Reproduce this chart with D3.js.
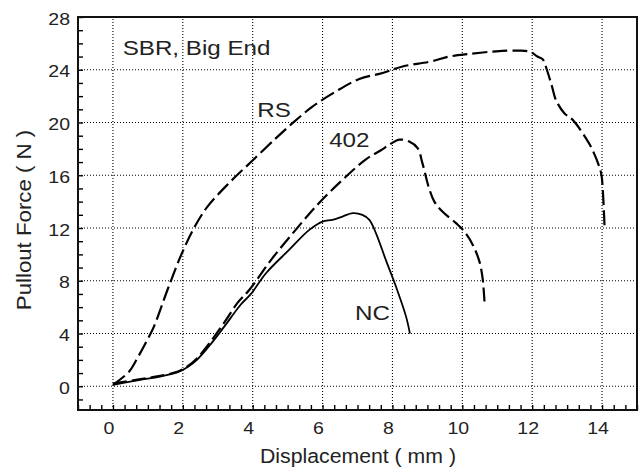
<!DOCTYPE html>
<html>
<head>
<meta charset="utf-8">
<script src="https://cdn.jsdelivr.net/npm/d3@7"></script>
<style>
  body { margin: 0; background: #fff; }
  svg { display: block; font-family: "Liberation Sans", Arial, sans-serif; }
</style>
</head>
<body>
<svg id="chart"></svg>
<script>
// curves, [displacement mm, force N]
const rsCurve = [
  [0, 0.1], [0.46, 1.1], [0.65, 1.9], [0.98, 3.5], [1.17, 4.5], [1.56, 7.3],
  [1.96, 10.0], [2.32, 12.0], [2.7, 13.6], [3.32, 15.4], [3.95, 17.0],
  [4.66, 18.8], [5.14, 19.95], [5.71, 21.2], [6.38, 22.35], [7.05, 23.3],
  [7.72, 23.75], [8.29, 24.25], [9.05, 24.6], [9.63, 25.0], [10.2, 25.2],
  [10.97, 25.4], [11.63, 25.45], [11.95, 25.35], [12.15, 25.0], [12.3, 24.8],
  [12.42, 24.0], [12.57, 22.7], [12.68, 21.7], [12.92, 20.7], [13.16, 20.2],
  [13.54, 18.8], [13.73, 17.9], [13.97, 16.2], [14.02, 14.9], [14.07, 12.2]
];
const curve402 = [
  [0, 0.2], [0.7, 0.5], [1.27, 0.75], [1.84, 1.1], [2.13, 1.5], [2.42, 2.15],
  [2.8, 3.4], [3.18, 4.8], [3.56, 6.3], [3.9, 7.3], [4.56, 9.7], [5.23, 11.86],
  [5.9, 13.9], [6.57, 15.65], [7.24, 17.2], [7.67, 17.9], [7.96, 18.4],
  [8.19, 18.7], [8.48, 18.56], [8.72, 18.06], [8.86, 16.9], [9.05, 15.0],
  [9.2, 14.0], [9.43, 13.25], [9.82, 12.37], [10.06, 11.73], [10.3, 10.72],
  [10.49, 9.45], [10.58, 8.2], [10.64, 6.2]
];
const ncCurve = [
  [0, 0.1], [0.7, 0.45], [1.27, 0.7], [1.84, 1.05], [2.13, 1.45], [2.42, 2.05],
  [2.8, 3.2], [3.18, 4.5], [3.66, 6.2], [3.95, 7.0], [4.38, 8.57], [5.04, 10.34],
  [5.62, 11.86], [6.0, 12.49], [6.28, 12.62], [6.57, 12.87], [6.86, 13.13],
  [7.14, 13.0], [7.34, 12.62], [7.53, 11.6], [7.81, 9.58], [8.1, 7.56],
  [8.39, 5.28], [8.5, 4.0]
];

const xTicks = [0, 2, 4, 6, 8, 10, 12, 14];
const yTicks = [0, 4, 8, 12, 16, 20, 24, 28];

const labels = [
  { text: "SBR, Big End", x: 0.28, y: 25.1 },
  { text: "RS", x: 4.13, y: 20.4 },
  { text: "402", x: 6.19, y: 18.15 },
  { text: "NC", x: 6.93, y: 5.05 }
];

const width = 639;
const height = 468;
const margin = { top: 17, right: 2, bottom: 58, left: 78 };

const svg = d3.select("#chart").attr("width", width).attr("height", height);

const x = d3.scaleLinear().domain([-1, 15]).range([margin.left, width - margin.right]);
const y = d3.scaleLinear().domain([-1.8, 28]).range([height - margin.bottom, margin.top]);

// the reference lettering is wider than Arial, stretch it a bit
function stretch(sel, factor) {
  sel.each(function () {
    const len = this.getComputedTextLength();
    d3.select(this)
      .attr("textLength", len * factor)
      .attr("lengthAdjust", "spacingAndGlyphs");
  });
}

// dotted grid
svg.append("g")
  .selectAll("line")
  .data(xTicks)
  .enter()
  .append("line")
  .attr("x1", (d) => x(d))
  .attr("x2", (d) => x(d))
  .attr("y1", y.range()[0])
  .attr("y2", y.range()[1])
  .attr("stroke", "#000")
  .attr("stroke-width", 1.1)
  .attr("stroke-dasharray", "1,2");

svg.append("g")
  .selectAll("line")
  .data(yTicks.slice(0, -1))
  .enter()
  .append("line")
  .attr("x1", x.range()[0])
  .attr("x2", x.range()[1])
  .attr("y1", (d) => y(d))
  .attr("y2", (d) => y(d))
  .attr("stroke", "#000")
  .attr("stroke-width", 1.1)
  .attr("stroke-dasharray", "1,2");

// minor ticks inside the frame
const xMinor = d3.range(-1, 15.001, 1 / 3);
const yMinor = d3.range(-1, 28.001, 1);

const xAxis = d3.axisBottom(x).tickValues(xMinor).tickSize(-5).tickFormat("");
svg.append("g")
  .attr("transform", `translate(0,${y.range()[0]})`)
  .call(xAxis)
  .call((g) => g.select(".domain").remove())
  .selectAll("line").attr("stroke-width", 1.4);

const yAxis = d3.axisLeft(y).tickValues(yMinor).tickSize(-5).tickFormat("");
svg.append("g")
  .attr("transform", `translate(${x.range()[0]},0)`)
  .call(yAxis)
  .call((g) => g.select(".domain").remove())
  .selectAll("line").attr("stroke-width", 1.4);

// tick labels
svg.append("g")
  .selectAll("text")
  .data(xTicks)
  .enter()
  .append("text")
  .attr("x", (d) => x(d) - 4)
  .attr("y", 434)
  .attr("text-anchor", "middle")
  .attr("font-size", 16)
  .attr("fill", "#222")
  .text((d) => d)
  .call(stretch, 1.22);

svg.append("g")
  .selectAll("text")
  .data(yTicks)
  .enter()
  .append("text")
  .attr("x", 70)
  .attr("y", (d) => y(d) + 2)
  .attr("dy", "0.35em")
  .attr("text-anchor", "end")
  .attr("font-size", 16)
  .attr("fill", "#222")
  .text((d) => d)
  .call(stretch, 1.22);

// frame
svg.append("rect")
  .attr("x", x.range()[0])
  .attr("y", y.range()[1])
  .attr("width", x.range()[1] - x.range()[0])
  .attr("height", y.range()[0] - y.range()[1])
  .attr("fill", "none")
  .attr("stroke", "#111")
  .attr("stroke-width", 2);

// curves
const line = d3.line()
  .x((d) => x(d[0]))
  .y((d) => y(d[1]))
  .curve(d3.curveCatmullRom);

svg.append("path")
  .attr("d", line(rsCurve))
  .attr("fill", "none")
  .attr("stroke", "#000")
  .attr("stroke-width", 2.2)
  .attr("stroke-dasharray", "15,5");

svg.append("path")
  .attr("d", line(curve402))
  .attr("fill", "none")
  .attr("stroke", "#000")
  .attr("stroke-width", 2.2)
  .attr("stroke-dasharray", "14,5");

svg.append("path")
  .attr("d", line(ncCurve))
  .attr("fill", "none")
  .attr("stroke", "#000")
  .attr("stroke-width", 1.8);

// annotations
svg.append("g")
  .selectAll("text")
  .data(labels)
  .enter()
  .append("text")
  .attr("x", (d) => x(d.x))
  .attr("y", (d) => y(d.y))
  .attr("font-size", 21)
  .attr("fill", "#222")
  .text((d) => d.text)
  .call(stretch, 1.15);

// axis titles
svg.append("text")
  .attr("x", 358)
  .attr("y", 463)
  .attr("text-anchor", "middle")
  .attr("font-size", 19.5)
  .attr("fill", "#222")
  .text("Displacement ( mm )")
  .call(stretch, 1.09);

svg.append("text")
  .attr("transform", "translate(31,220) rotate(-90)")
  .attr("text-anchor", "middle")
  .attr("font-size", 19.5)
  .attr("fill", "#222")
  .text("Pullout Force ( N )")
  .call(stretch, 1.14);
</script>
</body>
</html>
